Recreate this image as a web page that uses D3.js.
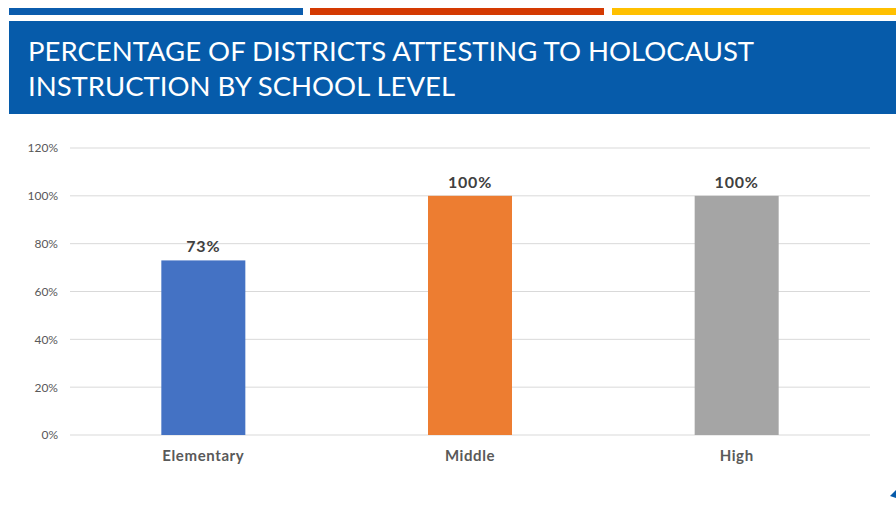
<!DOCTYPE html>
<html>
<head>
<meta charset="utf-8">
<script src="https://cdn.jsdelivr.net/npm/d3@7"></script>
<style>
  body { margin: 0; background: #fff; }
  svg { display: block; }
</style>
</head>
<body>
<svg id="chart" width="896" height="506"></svg>
<script>
// chart data
const levels = ["Elementary", "Middle", "High"];
const percents = [73, 100, 100];
const barColors = ["#4472C4", "#ED7D31", "#A5A5A5"];
const yTicks = [0, 20, 40, 60, 80, 100, 120];
const titleLines = ["PERCENTAGE OF DISTRICTS ATTESTING TO HOLOCAUST", "INSTRUCTION BY SCHOOL LEVEL"];

const svg = d3.select("#chart");
const font = "Lato, 'Open Sans', sans-serif";

// slide header: three coloured stripes then the blue title box
const stripes = [
  {x0: 9, x1: 303, c: "#0B5CAD"},
  {x0: 310, x1: 604, c: "#D43A02"},
  {x0: 612, x1: 896, c: "#FFC000"}
];
svg.selectAll(".stripe").data(stripes).enter()
  .append("rect").attr("class", "stripe")
  .attr("x", d => d.x0).attr("y", 8)
  .attr("width", d => d.x1 - d.x0).attr("height", 7)
  .attr("fill", d => d.c);

svg.append("rect")
  .attr("x", 9).attr("y", 21).attr("width", 887).attr("height", 93)
  .attr("fill", "#065BAA");

svg.selectAll(".title").data(titleLines).enter()
  .append("text").attr("class", "title")
  .attr("x", 28)
  .attr("y", (d, i) => 61 + i * 35)
  .attr("fill", "#fff")
  .attr("font-family", font)
  .attr("font-size", 27.5)
  .text(d => d);

// plot area
const margin = {left: 70, right: 26, top: 148, bottom: 71};
const x = d3.scaleBand()
  .domain(levels)
  .range([margin.left, 896 - margin.right])
  .paddingInner(0.685)
  .paddingOuter(0.3425);
const y = d3.scaleLinear()
  .domain([0, 120])
  .range([506 - margin.bottom, margin.top]);

// gridlines
svg.append("g")
  .selectAll("line").data(yTicks).enter()
  .append("line")
  .attr("x1", margin.left).attr("x2", 896 - margin.right)
  .attr("y1", d => y(d)).attr("y2", d => y(d))
  .attr("stroke", "#D9D9D9").attr("stroke-width", 1);

// y axis labels, no domain line
const yAxis = d3.axisLeft(y).tickValues(yTicks).tickSize(0).tickPadding(12)
  .tickFormat(d => d + "%");
const gy = svg.append("g")
  .attr("transform", `translate(${margin.left},0)`)
  .call(yAxis);
gy.select(".domain").remove();
gy.selectAll("text")
  .attr("font-family", font).attr("font-size", 12).attr("fill", "#595959");

// bars
svg.selectAll(".bar").data(levels).enter()
  .append("rect").attr("class", "bar")
  .attr("x", d => x(d))
  .attr("width", x.bandwidth())
  .attr("y", (d, i) => y(percents[i]))
  .attr("height", (d, i) => y(0) - y(percents[i]))
  .attr("fill", (d, i) => barColors[i]);

// value labels
svg.selectAll(".val").data(levels).enter()
  .append("text").attr("class", "val")
  .attr("x", d => x(d) + x.bandwidth() / 2)
  .attr("y", (d, i) => y(percents[i]) - 8)
  .attr("text-anchor", "middle")
  .attr("font-family", font).attr("font-weight", "bold")
  .attr("font-size", 16).attr("letter-spacing", 0.8).attr("fill", "#404040")
  .text((d, i) => percents[i] + "%");

// category axis
const xAxis = d3.axisBottom(x).tickSize(0).tickPadding(15);
const gx = svg.append("g")
  .attr("transform", `translate(0,${y(0)})`)
  .call(xAxis);
gx.select(".domain").remove();
gx.selectAll("text")
  .attr("font-family", font).attr("font-weight", "bold")
  .attr("font-size", 15).attr("letter-spacing", 0.6).attr("fill", "#595959");

// small mark at the slide's bottom right corner
svg.append("path")
  .attr("d", "M890,496 L896,490 L896,498 Z")
  .attr("fill", "#065BAA");
</script>
</body>
</html>
